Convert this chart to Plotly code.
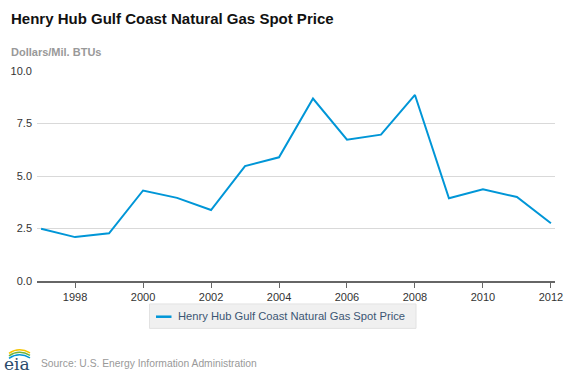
import plotly.graph_objects as go

years = list(range(1997, 2013))
prices = [2.49, 2.09, 2.27, 4.31, 3.96, 3.38, 5.47, 5.89, 8.69, 6.73, 6.97, 8.86, 3.94, 4.37, 4.00, 2.75]
series_name = "Henry Hub Gulf Coast Natural Gas Spot Price"
y_ticks = [0, 2.5, 5, 7.5, 10]
y_tick_labels = ["0.0", "2.5", "5.0", "7.5", "10.0"]
x_ticks = list(range(1998, 2013, 2))

W, H = 565, 377
L, R, T, B = 37, 10, 71, 95.5
plot_w = W - L - R
plot_h = H - T - B
LINE_COLOR = "#0096d7"


def fx(x):
    return (x - L) / plot_w


def fy(y):
    return (H - B - y) / plot_h


fig = go.Figure()
fig.add_trace(go.Scatter(
    x=years, y=prices, mode="lines", name=series_name,
    line=dict(color=LINE_COLOR, width=2), showlegend=False,
))

fig.update_layout(
    width=W, height=H,
    margin=dict(l=L, r=R, t=T, b=B, autoexpand=False),
    paper_bgcolor="white", plot_bgcolor="white",
    font=dict(family="Liberation Sans, Arial, sans-serif", size=11, color="#333333"),
    showlegend=False,
    xaxis=dict(
        range=[1996.88, 2012.12], tickvals=x_ticks, ticktext=[str(v) for v in x_ticks],
        showgrid=False, zeroline=False, automargin=False,
        showline=True, linecolor="#666666", linewidth=2,
        ticks="outside", ticklen=5, tickcolor="#666666", tickwidth=1,
        tickfont=dict(size=11, color="#333333"),
        fixedrange=True,
    ),
    yaxis=dict(
        range=[0, 10], tickvals=y_ticks, ticktext=y_tick_labels,
        showgrid=True, gridcolor="#d9d9d9", gridwidth=1,
        zeroline=False, showline=False, ticks="", automargin=False,
        tickfont=dict(size=11, color="#333333"),
        ticklabelstandoff=4,
        fixedrange=True,
    ),
)

# custom legend box
fig.add_shape(type="rect", xref="paper", yref="paper",
              x0=fx(149.5), x1=fx(416), y0=fy(329), y1=fy(304.5),
              fillcolor="#f0f0f0", line=dict(color="#e2e2e2", width=1), layer="below")
fig.add_shape(type="line", xref="paper", yref="paper",
              x0=fx(156), x1=fx(171.5), y0=fy(317.3), y1=fy(317.3),
              line=dict(color=LINE_COLOR, width=2.5))
fig.add_annotation(
    text=series_name, xref="paper", yref="paper", x=fx(175.5), y=fy(317),
    xanchor="left", yanchor="middle", showarrow=False,
    font=dict(size=11.2, color="#3b5573"),
)

fig.add_annotation(
    text="<b>Henry Hub Gulf Coast Natural Gas Spot Price</b>",
    xref="paper", yref="paper", x=fx(9), y=fy(18),
    xanchor="left", yanchor="middle", showarrow=False,
    font=dict(size=15, color="#111111"),
)
fig.add_annotation(
    text="<b>Dollars/Mil. BTUs</b>",
    xref="paper", yref="paper", x=fx(9), y=fy(52),
    xanchor="left", yanchor="middle", showarrow=False,
    font=dict(size=11, color="#999999"),
)
fig.add_annotation(
    text="Source: U.S. Energy Information Administration",
    xref="paper", yref="paper", x=fx(39), y=fy(364),
    xanchor="left", yanchor="middle", showarrow=False,
    font=dict(size=10.3, color="#999999"),
)
# eia logo
fig.add_annotation(
    text="eia",
    xref="paper", yref="paper", x=fx(2), y=fy(365),
    xanchor="left", yanchor="middle", showarrow=False,
    font=dict(size=17, color="#2a4a6b", family="DejaVu Serif, serif"),
)


def arc_path(x0, y0, x1, y1, cx, cy):
    def p(x, y):
        return f"{fx(x):.4f},{fy(y):.4f}"
    return f"M {p(x0, y0)} Q {p(cx, cy)} {p(x1, y1)}"


for (y0, col) in [(352, "#f5c400"), (354.5, "#6cb33f"), (357, "#0096d7")]:
    fig.add_shape(
        type="path", xref="paper", yref="paper",
        path=arc_path(9, y0 + 2, 30, y0 + 1.5, 19, y0 - 5),
        line=dict(color=col, width=1.5),
    )

fig.write_html(
    "out.html",
    config={"displayModeBar": False, "staticPlot": True},
    post_script="document.body.style.margin='0';document.body.style.overflow='hidden';",
)
